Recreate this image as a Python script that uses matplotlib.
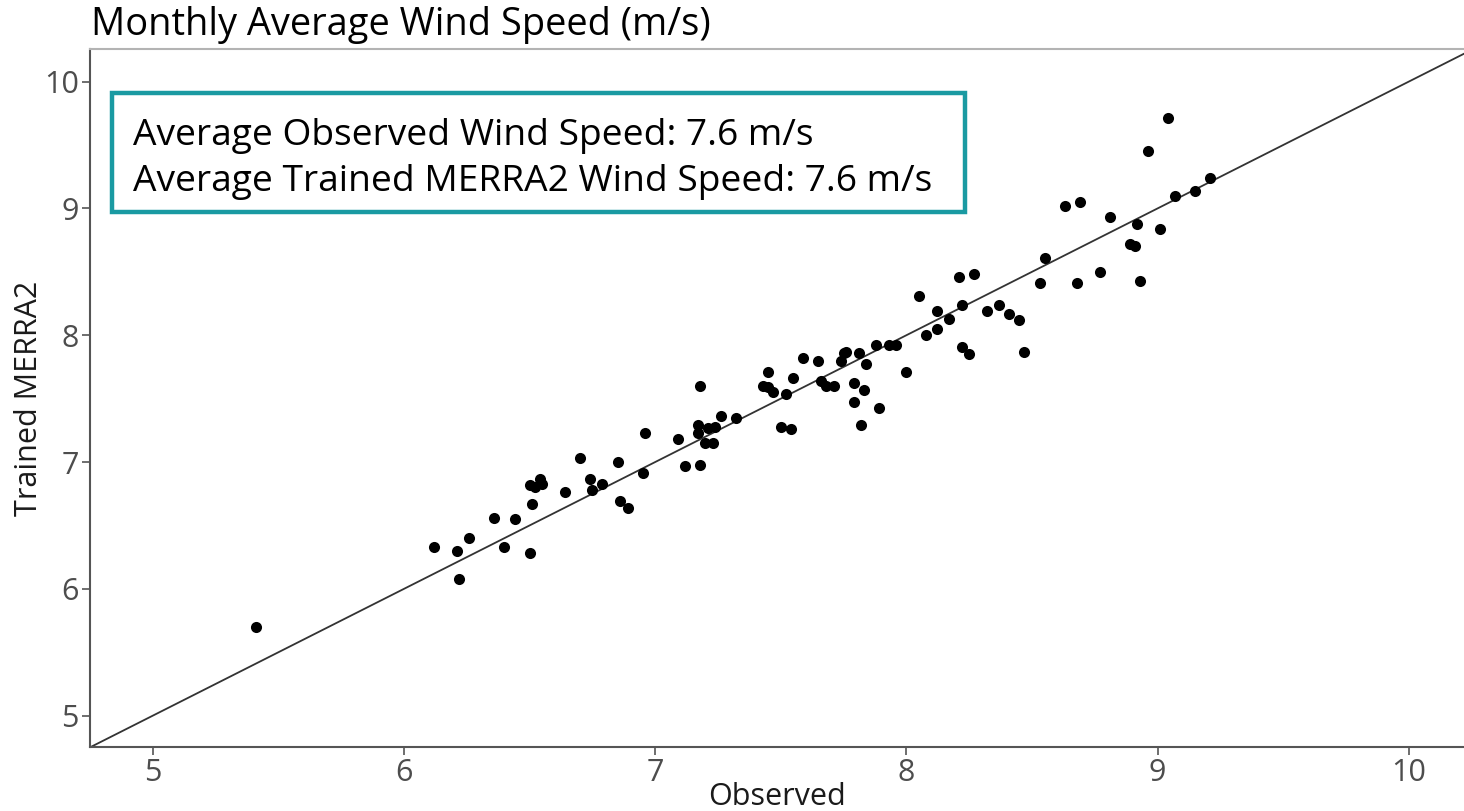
import matplotlib
matplotlib.use("Agg")
import matplotlib.pyplot as plt
from matplotlib.patches import Rectangle

plt.rcParams['font.family'] = ['Open Sans', 'DejaVu Sans']

# monthly averages
observed = [5.41, 6.12, 6.21, 6.22, 6.26, 6.36, 6.40, 6.44, 6.50, 6.51,
            6.50, 6.52, 6.54, 6.55, 6.64, 6.70, 6.74, 6.75, 6.79, 6.85,
            6.86, 6.89, 6.95, 6.96, 7.09, 7.12, 7.18, 7.17, 7.17, 7.20,
            7.23, 7.21, 7.24, 7.26, 7.32, 7.18, 7.43, 7.45, 7.45, 7.47,
            7.52, 7.50, 7.54, 7.55, 7.59, 7.65, 7.66, 7.68, 7.71, 7.74,
            7.75, 7.76, 7.79, 7.79, 7.82, 7.83, 7.81, 7.84, 7.89, 7.88,
            7.93, 7.96, 8.00, 8.08, 8.12, 8.05, 8.12, 8.17, 8.21, 8.27,
            8.22, 8.22, 8.25, 8.32, 8.37, 8.41, 8.45, 8.47, 8.53, 8.55,
            8.68, 8.77, 8.93, 8.63, 8.69, 8.81, 8.89, 8.91, 8.92, 9.01,
            8.96, 9.04, 9.07, 9.15, 9.21]
trained = [5.70, 6.33, 6.30, 6.08, 6.40, 6.56, 6.33, 6.55, 6.28, 6.67,
           6.82, 6.80, 6.87, 6.83, 6.76, 7.03, 6.87, 6.78, 6.83, 7.00,
           6.69, 6.64, 6.91, 7.23, 7.18, 6.97, 6.98, 7.29, 7.23, 7.15,
           7.15, 7.27, 7.28, 7.36, 7.35, 7.60, 7.60, 7.71, 7.59, 7.55,
           7.54, 7.28, 7.26, 7.66, 7.82, 7.80, 7.64, 7.60, 7.60, 7.80,
           7.86, 7.87, 7.62, 7.47, 7.29, 7.57, 7.86, 7.77, 7.43, 7.92,
           7.92, 7.92, 7.71, 8.00, 8.05, 8.31, 8.19, 8.13, 8.46, 8.48,
           8.24, 7.91, 7.85, 8.19, 8.24, 8.17, 8.12, 7.87, 8.41, 8.61,
           8.41, 8.50, 8.43, 9.02, 9.05, 8.93, 8.72, 8.70, 8.88, 8.84,
           9.45, 9.71, 9.10, 9.14, 9.24]

avg_obs = 7.6
avg_trained = 7.6
lo, hi = 4.75, 10.26

fig = plt.figure(figsize=(14.64, 8.11), dpi=100)
ax = fig.add_axes([0.0615, 0.0785, 0.9385, 0.8615])

ax.plot([lo, hi], [lo, hi], color='#333333', lw=1.3, zorder=2)
ax.scatter(observed, trained, s=64, color='black', zorder=3, linewidths=0)

ax.set_xlim(lo, 10.22)
ax.set_ylim(lo, hi)
ax.set_xticks([5, 6, 7, 8, 9, 10])
ax.set_yticks([5, 6, 7, 8, 9, 10])
ax.tick_params(direction='out', length=6, width=1.2, color='#555555',
               labelcolor='#4d4d4d', labelsize=22, pad=2)

ax.spines['right'].set_visible(False)
ax.spines['top'].set_color('#b3b3b3')
ax.spines['top'].set_linewidth(1.5)
for s in ['left', 'bottom']:
    ax.spines[s].set_color('#555555')
    ax.spines[s].set_linewidth(1.5)

# annotation box
ax.add_patch(Rectangle((0.016, 0.7662), 0.6208, 0.1704, transform=ax.transAxes,
                       fill=True, facecolor='white', edgecolor='#1a9aa2', lw=3.2,
                       zorder=4))
ax.text(0.0313, 0.8622, f"Average Observed Wind Speed: {avg_obs} m/s",
        transform=ax.transAxes, fontsize=26.7, va='baseline', ha='left', zorder=5)
ax.text(0.0313, 0.7963, f"Average Trained MERRA2 Wind Speed: {avg_trained} m/s",
        transform=ax.transAxes, fontsize=26.7, va='baseline', ha='left', zorder=5)

fig.text(91 / 1464, 1 - 35 / 811, 'Monthly Average Wind Speed (m/s)',
         fontsize=27.4, ha='left', va='baseline')
fig.text(777 / 1464, 1 - 805 / 811, 'Observed', fontsize=22,
         ha='center', va='baseline', color='#1a1a1a')
fig.text(14 / 1464, 1 - 398 / 811, 'Trained MERRA2', fontsize=22,
         rotation=90, ha='left', va='center', color='#1a1a1a')

fig.savefig('out.png', dpi=100)
